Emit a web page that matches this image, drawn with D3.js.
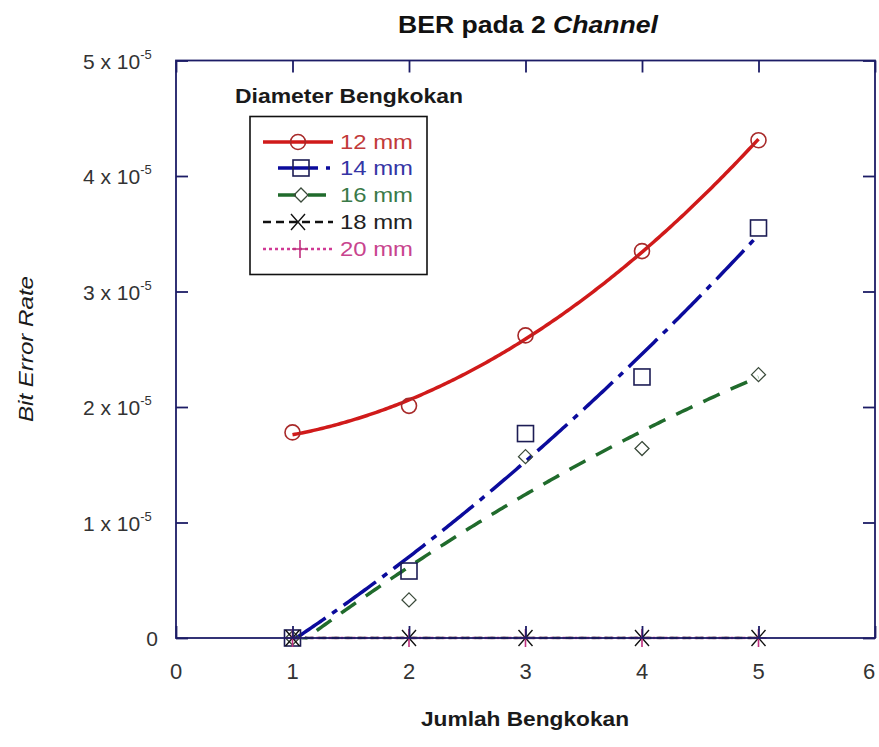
<!DOCTYPE html>
<html>
<head>
<meta charset="utf-8">
<script src="https://cdn.jsdelivr.net/npm/d3@7"></script>
<style>
  html, body { margin: 0; padding: 0; background: #fff; }
  svg { display: block; font-family: "Liberation Sans", Arial, sans-serif; }
</style>
</head>
<body>
<svg id="chart" width="879" height="747"></svg>
<script>
// ---- data ----
const jumlahBengkokan = [1, 2, 3, 4, 5];
const ber12mm = [1.78e-5, 2.01e-5, 2.62e-5, 3.35e-5, 4.31e-5];
const ber14mm = [0, 0.58e-5, 1.77e-5, 2.26e-5, 3.55e-5];
const ber16mm = [0, 0.33e-5, 1.57e-5, 1.64e-5, 2.28e-5];
const ber18mm = [0, 0, 0, 0, 0];
const ber20mm = [0, 0, 0, 0, 0];
const seriesNames = ["12 mm", "14 mm", "16 mm", "18 mm", "20 mm"];
const xTicks = [0, 1, 2, 3, 4, 5, 6];
const yTicks = [0, 1e-5, 2e-5, 3e-5, 4e-5, 5e-5];

const series = [
  { name: seriesNames[0], values: ber12mm, line: "#d01a1a", marker: "circle", mcol: "#a82a2a", text: "#c23a3a", dash: null, width: 3.5 },
  { name: seriesNames[1], values: ber14mm, line: "#0b0b9c", marker: "square", mcol: "#1d1d55", text: "#3535a5", dash: "40,8,6,8", width: 3.5 },
  { name: seriesNames[2], values: ber16mm, line: "#206b2c", marker: "diamond", mcol: "#3a4a3a", text: "#3a7a48", dash: "18,12", width: 3.5 },
  { name: seriesNames[3], values: ber18mm, line: "#111111", marker: "x", mcol: "#111111", text: "#222222", dash: "8,5", width: 2.5 },
  { name: seriesNames[4], values: ber20mm, line: "#d03a95", marker: "plus", mcol: "#c0307f", text: "#c8448e", dash: "3,3", width: 2.5 }
];

// ---- layout ----
const svg = d3.select("#chart");
const L = 176, R = 875, T = 60.5, B = 638;
const x = d3.scaleLinear().domain([0, 6]).range([L, R]);
const y = d3.scaleLinear().domain([0, 5e-5]).range([B, T]);
const frame = "#1c1c66";

// quadratic least-squares fit (trend curve through the data)
function quadFit(xs, ys) {
  const n = xs.length;
  const s = [0, 0, 0, 0, 0], t = [0, 0, 0];
  for (let i = 0; i < n; i++) {
    const xi = xs[i], yi = ys[i];
    for (let k = 0; k < 5; k++) s[k] += Math.pow(xi, k);
    for (let k = 0; k < 3; k++) t[k] += yi * Math.pow(xi, k);
  }
  const M = [[s[0], s[1], s[2], t[0]], [s[1], s[2], s[3], t[1]], [s[2], s[3], s[4], t[2]]];
  for (let i = 0; i < 3; i++) {
    let p = i;
    for (let r = i + 1; r < 3; r++) if (Math.abs(M[r][i]) > Math.abs(M[p][i])) p = r;
    const tmp = M[i]; M[i] = M[p]; M[p] = tmp;
    for (let r = 0; r < 3; r++) {
      if (r === i) continue;
      const f = M[r][i] / M[i][i];
      for (let c = i; c < 4; c++) M[r][c] -= f * M[i][c];
    }
  }
  const a = M.map((row, i) => row[3] / row[i]);
  return xv => a[0] + a[1] * xv + a[2] * xv * xv;
}

svg.append("defs").append("clipPath").attr("id", "plotClip")
  .append("rect").attr("x", L).attr("y", T).attr("width", R - L).attr("height", B - T + 1.5);

// ---- fit curves ----
const gLines = svg.append("g").attr("clip-path", "url(#plotClip)");
const x0 = d3.min(jumlahBengkokan), x1 = d3.max(jumlahBengkokan);
const samples = d3.range(0, 201).map(i => x0 + (x1 - x0) * i / 200);
const lineGen = d3.line().x(d => x(d[0])).y(d => y(d[1]));
series.slice().reverse().forEach(s => {
  const f = quadFit(jumlahBengkokan, s.values);
  const pts = samples.map(v => [v, f(v)]);
  gLines.append("path")
    .attr("d", lineGen(pts))
    .attr("fill", "none")
    .attr("stroke", s.line)
    .attr("stroke-width", s.width)
    .attr("stroke-dasharray", s.dash)
    .attr("stroke-linecap", "butt");
});

// ---- markers ----
function drawMarker(g, type, cx, cy, col) {
  if (type === "circle") {
    g.append("circle").attr("cx", cx).attr("cy", cy).attr("r", 7.5)
      .attr("fill", "none").attr("stroke", col).attr("stroke-width", 1.6);
  } else if (type === "square") {
    g.append("rect").attr("x", cx - 8).attr("y", cy - 8).attr("width", 16).attr("height", 16)
      .attr("fill", "none").attr("stroke", col).attr("stroke-width", 1.6);
  } else if (type === "diamond") {
    g.append("path").attr("d", `M${cx},${cy - 7}L${cx + 7},${cy}L${cx},${cy + 7}L${cx - 7},${cy}Z`)
      .attr("fill", "none").attr("stroke", col).attr("stroke-width", 1.3);
  } else if (type === "x") {
    g.append("path").attr("d", `M${cx - 7},${cy - 8}L${cx + 7},${cy + 8}M${cx + 7},${cy - 8}L${cx - 7},${cy + 8}`)
      .attr("fill", "none").attr("stroke", col).attr("stroke-width", 1.4);
  } else if (type === "plus") {
    g.append("path").attr("d", `M${cx - 8},${cy}L${cx + 8},${cy}M${cx},${cy - 9}L${cx},${cy + 9}`)
      .attr("fill", "none").attr("stroke", col).attr("stroke-width", 1.6);
  }
}
const gMarks = svg.append("g");
series.forEach(s => {
  s.values.forEach((v, i) => drawMarker(gMarks, s.marker, x(jumlahBengkokan[i]), y(v), s.mcol));
});

// ---- frame & ticks ----
svg.append("rect").attr("x", L).attr("y", T).attr("width", R - L).attr("height", B - T)
  .attr("fill", "none").attr("stroke", frame).attr("stroke-width", 1.8);

const tl = 12;
const gAxisB = svg.append("g").attr("transform", `translate(0,${B})`)
  .call(d3.axisBottom(x).tickValues(xTicks).tickSize(-tl).tickFormat(""));
const gAxisT = svg.append("g").attr("transform", `translate(0,${T})`)
  .call(d3.axisTop(x).tickValues(xTicks).tickSize(-tl).tickFormat(""));
const gAxisL = svg.append("g").attr("transform", `translate(${L},0)`)
  .call(d3.axisLeft(y).tickValues(yTicks).tickSize(-tl).tickFormat(""));
const gAxisR = svg.append("g").attr("transform", `translate(${R},0)`)
  .call(d3.axisRight(y).tickValues(yTicks).tickSize(-tl).tickFormat(""));
[gAxisB, gAxisT, gAxisL, gAxisR].forEach(g => {
  g.select(".domain").remove();
  g.selectAll(".tick line").attr("stroke", frame).attr("stroke-width", 1.8);
});

// tick labels
const tickCol = "#333333";
xTicks.forEach(v => {
  svg.append("text").attr("x", Math.min(x(v), 869)).attr("y", 679).attr("text-anchor", "middle")
    .attr("font-size", 22).attr("fill", tickCol).text(d3.format("d")(v));
});
yTicks.forEach(v => {
  const t = svg.append("text").attr("y", y(v) + 8).attr("font-size", 21).attr("fill", tickCol);
  if (v === 0) {
    t.attr("x", 158).attr("text-anchor", "end").text("0");
  } else {
    const m = Math.round(v / 1e-5);
    t.attr("x", 83).attr("text-anchor", "start");
    t.append("tspan").text(`${m} x 10`);
    t.append("tspan").attr("dy", -10).attr("font-size", 13).text("-5");
  }
});

// ---- titles ----
const title = svg.append("text").attr("x", 528).attr("y", 33).attr("text-anchor", "middle")
  .attr("font-size", 24).attr("font-weight", "bold").attr("fill", "#111")
  .attr("textLength", 260).attr("lengthAdjust", "spacingAndGlyphs");
title.append("tspan").text("BER pada 2 ");
title.append("tspan").attr("font-style", "italic").text("Channel");

svg.append("text").attr("x", 525).attr("y", 726).attr("text-anchor", "middle")
  .attr("font-size", 21).attr("font-weight", "bold").attr("fill", "#1a1a1a")
  .attr("textLength", 208).attr("lengthAdjust", "spacingAndGlyphs")
  .text("Jumlah Bengkokan");

svg.append("text").attr("transform", "translate(33,349) rotate(-90)").attr("text-anchor", "middle")
  .attr("font-size", 21).attr("font-style", "italic").attr("fill", "#1a1a1a")
  .attr("textLength", 146).attr("lengthAdjust", "spacingAndGlyphs")
  .text("Bit Error Rate");

// ---- legend ----
svg.append("text").attr("x", 235).attr("y", 103).attr("font-size", 21).attr("font-weight", "bold")
  .attr("fill", "#1a1a1a").attr("textLength", 228).attr("lengthAdjust", "spacingAndGlyphs")
  .text("Diameter Bengkokan");
svg.append("rect").attr("x", 250).attr("y", 116.5).attr("width", 177).attr("height", 158)
  .attr("fill", "#fff").attr("stroke", "#111").attr("stroke-width", 1.6);

const legRows = [142, 168, 195, 222, 249];
const legX = [[263, 333, 298], [278, 330, 301], [278, 330, 301], [263, 333, 298], [263, 333, 300]];
series.forEach((s, i) => {
  const ly = legRows[i];
  svg.append("line").attr("x1", legX[i][0]).attr("x2", legX[i][1]).attr("y1", ly).attr("y2", ly)
    .attr("stroke", s.line).attr("stroke-width", s.width).attr("stroke-dasharray", s.dash);
  const g = svg.append("g");
  drawMarker(g, s.marker, legX[i][2], ly, s.mcol);
  svg.append("text").attr("x", 340).attr("y", ly + 7).attr("font-size", 21)
    .attr("fill", s.text).attr("textLength", 73).attr("lengthAdjust", "spacingAndGlyphs")
    .text(s.name);
});
</script>
</body>
</html>
